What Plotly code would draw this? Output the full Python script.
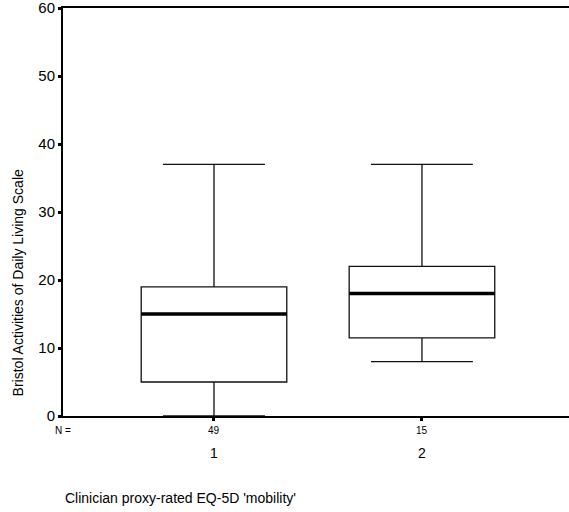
import plotly.graph_objects as go

# Summary statistics for each mobility group
groups = [1, 2]
n_counts = [49, 15]
lower_whisker = [0, 8]
q1 = [5, 11.5]
median = [15, 18]
q3 = [19, 22]
upper_whisker = [37, 37]

y_ticks = [0, 10, 20, 30, 40, 50, 60]

FONT = "Liberation Sans, Arial, sans-serif"
BOX_WIDTH = 0.7

fig = go.Figure()

fig.add_trace(go.Box(
    x=groups,
    q1=q1,
    median=median,
    q3=q3,
    lowerfence=lower_whisker,
    upperfence=upper_whisker,
    width=BOX_WIDTH,
    whiskerwidth=0.7,
    fillcolor="white",
    line=dict(color="#111111", width=1.3),
    boxpoints=False,
    hoverinfo="skip",
    showlegend=False,
))

# Heavy median bars drawn over each box
for g, m in zip(groups, median):
    fig.add_trace(go.Scatter(
        x=[g - BOX_WIDTH / 2, g + BOX_WIDTH / 2],
        y=[m, m],
        mode="lines",
        line=dict(color="black", width=3.5),
        hoverinfo="skip",
        showlegend=False,
    ))

# Group sizes under the axis
annotations = [dict(
    x=0, xref="paper", y=0, yref="paper", yshift=-14,
    text="N =", showarrow=False, xanchor="center", yanchor="middle",
    font=dict(family=FONT, size=10, color="black"),
)]
for g, n in zip(groups, n_counts):
    annotations.append(dict(
        x=g, xref="x", y=0, yref="paper", yshift=-14,
        text=str(n), showarrow=False, xanchor="center", yanchor="middle",
        font=dict(family=FONT, size=10, color="black"),
    ))

annotations.append(dict(
    x=0, xref="paper", y=0, yref="paper", yshift=-82, xshift=0,
    text="Clinician proxy-rated EQ-5D 'mobility'", showarrow=False,
    xanchor="left", yanchor="middle",
    font=dict(family=FONT, size=14, color="black"),
))
annotations.append(dict(
    x=0, xref="paper", y=0.325, yref="paper", xshift=-45,
    text="Bristol Activities of Daily Living Scale", showarrow=False,
    textangle=-90, xanchor="center", yanchor="middle",
    font=dict(family=FONT, size=14, color="black"),
))

fig.update_layout(
    width=569, height=512,
    margin=dict(l=63, r=0, t=8, b=96),
    paper_bgcolor="white",
    plot_bgcolor="white",
    font=dict(family=FONT, color="black"),
    annotations=annotations,
    xaxis=dict(
        range=[0.274, 2.707],
        tickmode="array",
        tickvals=groups,
        ticktext=[str(g) for g in groups],
        ticks="outside", ticklen=3, tickwidth=3, tickcolor="black",
        tickfont=dict(family=FONT, size=14, color="black"),
        ticklabelstandoff=20,
        showline=True, linecolor="black", linewidth=2, mirror=True,
        showgrid=False, zeroline=False,
    ),
    yaxis=dict(
        range=[0, 60],
        tickmode="array",
        tickvals=y_ticks,
        ticks="outside", ticklen=3, tickwidth=3, tickcolor="black",
        tickfont=dict(family=FONT, size=15, color="black"),
        ticklabeloverflow="allow",
        showline=True, linecolor="black", linewidth=2,
        showgrid=False, zeroline=False,
    ),
)

fig.write_html("out.html")
